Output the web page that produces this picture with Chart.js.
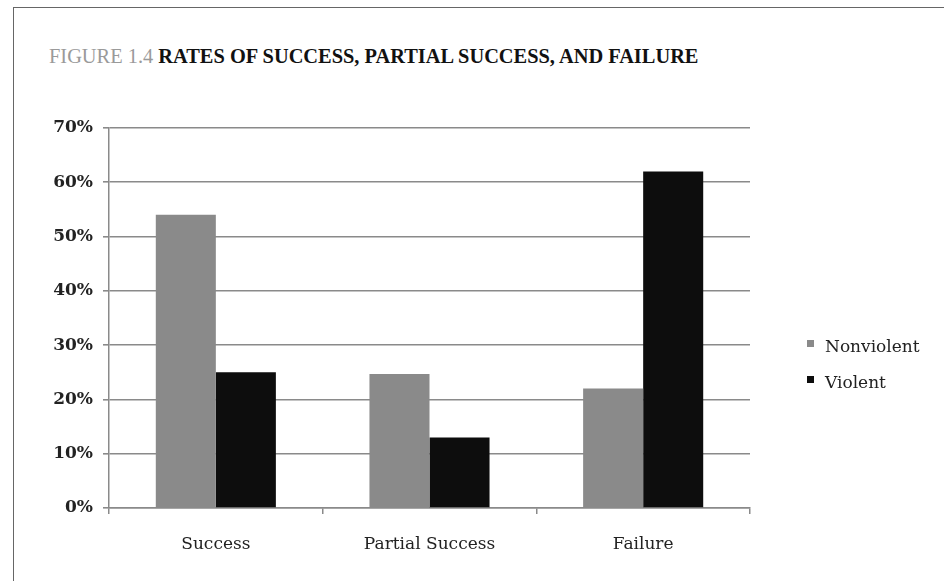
<!DOCTYPE html>
<html>
<head>
<meta charset="utf-8">
<script src="https://cdn.jsdelivr.net/npm/chart.js@4.4.1/dist/chart.umd.min.js"></script>
<style>
  html, body { margin: 0; padding: 0; background: #fff; }
  #wrap { position: relative; width: 944px; height: 581px; overflow: hidden; }
  #frame { position: absolute; left: 13px; top: 7px; width: 960px; height: 600px;
           border-top: 1px solid #666; border-left: 1px solid #666; }
  #title { position: absolute; left: 49px; top: 46px; font-family: "Liberation Serif", serif;
           font-size: 20.4px; line-height: 20px; white-space: nowrap; }
  #title .fig { color: #9a9a9a; }
  #title .main { color: #111; font-weight: bold; }
  #c { position: absolute; left: 0; top: 0; }
</style>
</head>
<body>
<div id="wrap">
  <div id="frame"></div>
  <div id="title"><span class="fig">FIGURE 1.4 </span><span class="main">RATES OF SUCCESS, PARTIAL SUCCESS, AND FAILURE</span></div>
  <canvas id="c" width="944" height="581"></canvas>
</div>
<script>
const categories = ["Success", "Partial Success", "Failure"];
const nonviolent = [54, 24.7, 22];
const violent = [25, 13, 62];
const seriesNames = ["Nonviolent", "Violent"];
const yTicks = [0, 10, 20, 30, 40, 50, 60, 70];

const legendPlugin = {
  id: 'sideLegend',
  afterDraw(chart) {
    const ctx = chart.ctx;
    const ys = [348, 384];
    ctx.save();
    ctx.font = '17px "DejaVu Serif"';
    ctx.textBaseline = 'middle';
    chart.data.datasets.forEach((ds, i) => {
      ctx.fillStyle = ds.backgroundColor;
      ctx.fillRect(807, ys[i] - 8, 7, 7);
      ctx.fillStyle = '#222';
      ctx.fillText(ds.label, 825, ys[i]);
    });
    ctx.restore();
  }
};

new Chart(document.getElementById('c'), {
  type: 'bar',
  data: {
    labels: categories,
    datasets: [
      { label: seriesNames[0], data: nonviolent, backgroundColor: '#8a8a8a' },
      { label: seriesNames[1], data: violent, backgroundColor: '#0d0d0d' }
    ]
  },
  options: {
    responsive: false,
    animation: false,
    layout: { padding: { left: 0, right: 194, top: 128, bottom: 0 } },
    datasets: { bar: { categoryPercentage: 0.562, barPercentage: 1.0 } },
    plugins: { legend: { display: false }, title: { display: false }, tooltip: { enabled: false } },
    scales: {
      x: {
        grid: { display: true, drawOnChartArea: false, drawTicks: true, offset: true,
                tickLength: 6, color: '#8a8a8a', lineWidth: 1.5 },
        border: { display: true, color: '#8a8a8a', width: 1.5 },
        ticks: { padding: 20, color: '#222', font: { family: 'DejaVu Serif', size: 17 } },
        afterFit(scale) { scale.height = 73; }
      },
      y: {
        min: 0, max: 70,
        afterBuildTicks(scale) { scale.ticks = yTicks.map(v => ({ value: v })); },
        grid: { color: '#8a8a8a', lineWidth: 1.6, tickLength: 6, drawTicks: true },
        border: { display: true, color: '#8a8a8a', width: 1.5 },
        ticks: { padding: 10, color: '#222', font: { family: 'DejaVu Serif', size: 17, weight: 'bold' },
                 callback: v => v + '%' },
        afterFit(scale) { scale.width = 109; }
      }
    }
  },
  plugins: [legendPlugin]
});
</script>
</body>
</html>
